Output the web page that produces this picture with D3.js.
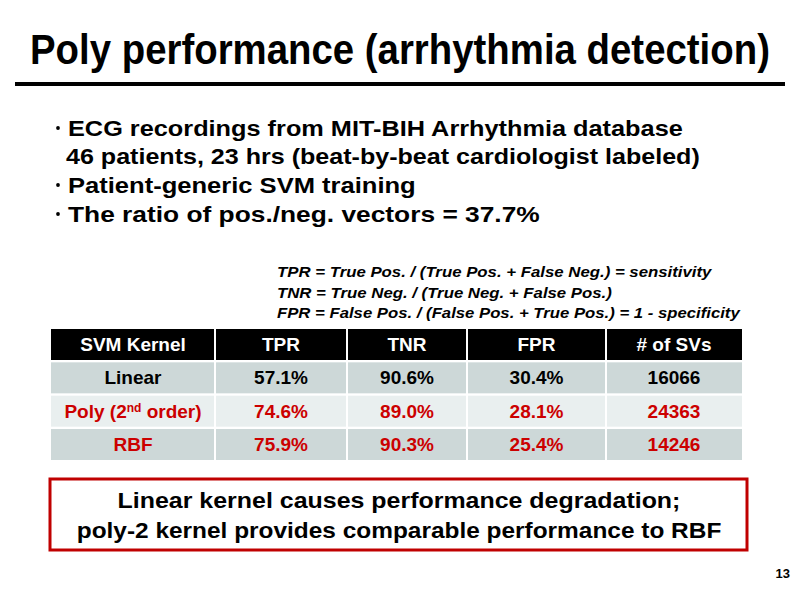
<!DOCTYPE html>
<html>
<head>
<meta charset="utf-8">
<script src="https://cdn.jsdelivr.net/npm/d3@7"></script>
<style>
  body { margin: 0; background: #fff; }
  text { font-family: "Liberation Sans Narrow", "Arial Narrow", "Liberation Sans", Arial, sans-serif; font-weight: bold; }
</style>
</head>
<body>
<div id="slide"></div>
<script>
const w = 800;
const h = 599;

// slide content
const title = 'Poly performance (arrhythmia detection)';
const bullets = [
    { text: 'ECG recordings from MIT-BIH Arrhythmia database', dot: true },
    { text: '46 patients, 23 hrs (beat-by-beat cardiologist labeled)', dot: false },
    { text: 'Patient-generic SVM training', dot: true },
    { text: 'The ratio of pos./neg. vectors = 37.7%', dot: true }
];
const definitions = [
    'TPR = True Pos. / (True Pos. + False Neg.) = sensitivity',
    'TNR = True Neg. / (True Neg. + False Pos.)',
    'FPR = False Pos. / (False Pos. + True Pos.) = 1 - specificity'
];

// table data
const columns = ['SVM Kernel', 'TPR', 'TNR', 'FPR', '# of SVs'];
const kernels = ['Linear', 'Poly (2nd order)', 'RBF'];
const tpr = ['57.1%', '74.6%', '75.9%'];
const tnr = ['90.6%', '89.0%', '90.3%'];
const fpr = ['30.4%', '28.1%', '25.4%'];
const numSVs = ['16066', '24363', '14246'];

const conclusion = [
    'Linear kernel causes performance degradation;',
    'poly-2 kernel provides comparable performance to RBF'
];
const pageNum = '13';

const svg = d3.select('#slide')
    .append('svg')
    .attr('width', w)
    .attr('height', h);

// scale a text horizontally so it spans `width`, anchored at (x, y)
const fitText = (sel, x, y, width, anchor) => {
    sel.attr('x', 0).attr('y', 0).attr('text-anchor', anchor || 'start');
    const natural = sel.node().getComputedTextLength();
    const sx = width / natural;
    sel.attr('transform', 'translate(' + x + ',' + y + ') scale(' + sx + ',1)');
};

// title + rule
fitText(svg.append('text').style('font-size', '43px').text(title), 30, 64, 740);

svg.append('rect')
    .attr('x', 15)
    .attr('y', 82)
    .attr('width', 770)
    .attr('height', 4)
    .attr('fill', '#000');

// bullets
const bulletWidths = [615, 634, 348, 472];
const bulletY = [136, 164, 193, 222];
bullets.forEach((b, i) => {
    if (b.dot) {
        svg.append('circle')
            .attr('cx', 58)
            .attr('cy', bulletY[i] - 8)
            .attr('r', 1.9)
            .attr('fill', '#000');
    }
    fitText(svg.append('text').style('font-size', '22px').text(b.text),
        b.dot ? 68 : 66, bulletY[i], bulletWidths[i]);
});

// definitions
const defWidths = [435, 335, 463];
definitions.forEach((d, i) => {
    fitText(svg.append('text')
        .style('font-size', '15px')
        .style('font-style', 'italic')
        .text(d), 277, 277 + i * 20.5, defWidths[i]);
});

// table
const colEdges = [51, 215, 347, 467, 606, 742];
const rows = [columns].concat(kernels.map((k, i) => [k, tpr[i], tnr[i], fpr[i], numSVs[i]]));

const y = d3.scaleBand()
    .domain(d3.range(rows.length))
    .range([329, 460])
    .paddingInner(0.07);

const rowFill = ['#000000', '#CDD8D8', '#E9EFEF', '#CDD8D8'];
const rowColor = ['#FFFFFF', '#000000', '#CC0000', '#CC0000'];

const cells = [];
rows.forEach((r, ri) => r.forEach((v, ci) => cells.push({ r: ri, c: ci, v: v })));

const cell = svg.append('g').attr('class', 'table')
    .selectAll('g')
    .data(cells)
    .enter()
    .append('g');

cell.append('rect')
    .attr('x', d => colEdges[d.c] + (d.c > 0 ? 1 : 0))
    .attr('y', d => y(d.r))
    .attr('width', d => colEdges[d.c + 1] - colEdges[d.c] - (d.c > 0 ? 1 : 0) - (d.c < columns.length - 1 ? 1 : 0))
    .attr('height', y.bandwidth())
    .attr('fill', d => rowFill[d.r]);

const cellText = cell.append('text')
    .attr('x', d => (colEdges[d.c] + colEdges[d.c + 1]) / 2)
    .attr('y', d => y(d.r) + y.bandwidth() / 2 + 6.5)
    .attr('text-anchor', 'middle')
    .style('font-size', '19px')
    .attr('fill', d => rowColor[d.r]);

cellText.each(function (d) {
    const t = d3.select(this);
    const m = d.v.match(/^(.*\d)(nd)(.*)$/);
    if (m) {
        t.append('tspan').text(m[1]);
        t.append('tspan').attr('dy', -6).style('font-size', '12px').text(m[2]);
        t.append('tspan').attr('dy', 6).text(m[3]);
    } else {
        t.text(d.v);
    }
});

// conclusion box
svg.append('rect')
    .attr('x', 50)
    .attr('y', 479)
    .attr('width', 697)
    .attr('height', 71)
    .attr('fill', 'none')
    .attr('stroke', '#C00000')
    .attr('stroke-width', 3);

const conclWidths = [563, 645];
conclusion.forEach((c, i) => {
    fitText(svg.append('text').style('font-size', '22px').text(c),
        399, 508 + i * 30, conclWidths[i], 'middle');
});

svg.append('text')
    .attr('x', 790)
    .attr('y', 578)
    .attr('text-anchor', 'end')
    .style('font-size', '13px')
    .text(pageNum);
</script>
</body>
</html>
